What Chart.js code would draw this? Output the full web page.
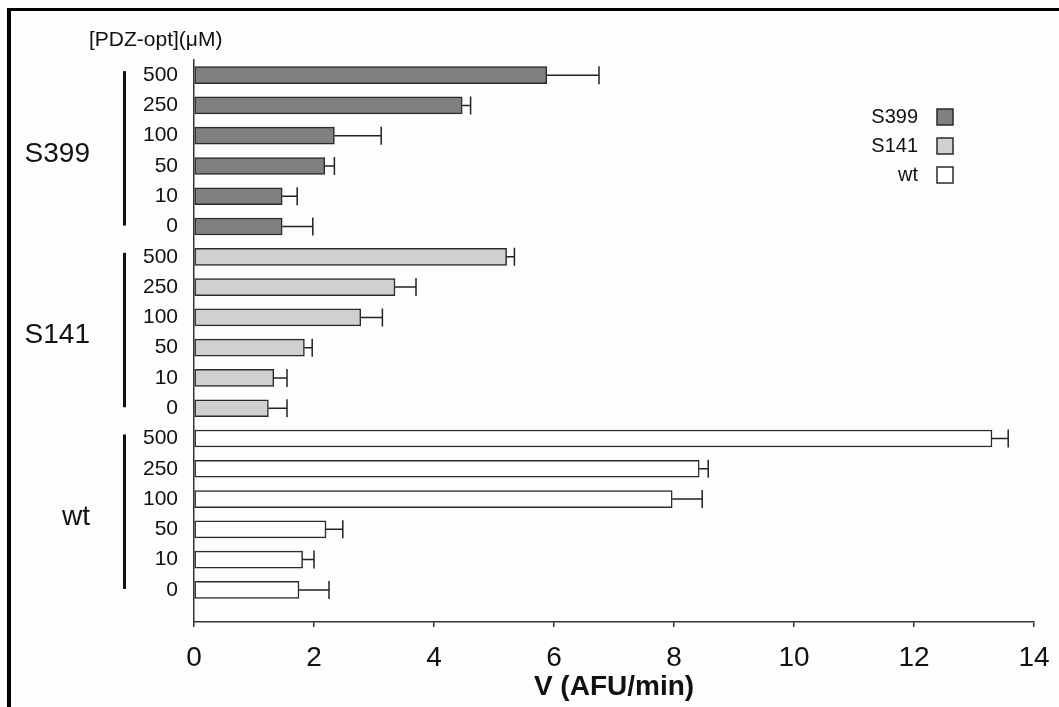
<!DOCTYPE html>
<html>
<head>
<meta charset="utf-8">
<script src="https://cdn.jsdelivr.net/npm/chart.js@4"></script>
<style>
    body { margin: 0; background: #fff; }
    #wrap { position: relative; width: 1059px; height: 707px; overflow: hidden; background: #fdfdfd; }
    #frame { position: absolute; left: 7px; top: 8px; right: -10px; bottom: -10px; border-top: 3px solid #000; border-left: 4px solid #000; pointer-events: none; }
    canvas { position: absolute; left: 0; top: 0; }
</style>
</head>
<body>
<div id="wrap">
    <canvas id="chart" width="1059" height="707"></canvas>
    <div id="frame"></div>
</div>
<script>
// rows are drawn top to bottom: S399 group, S141 group, wt group
const groups = ['S399', 'S141', 'wt'];
const concLabels = ['500', '250', '100', '50', '10', '0'];
const headerLabel = '[PDZ-opt](\u03bcM)';

const s399Values = [5.88, 4.47, 2.34, 2.18, 1.47, 1.47];
const s399Errors = [0.87, 0.14, 0.78, 0.16, 0.25, 0.51];
const s141Values = [5.21, 3.35, 2.78, 1.84, 1.33, 1.24];
const s141Errors = [0.13, 0.35, 0.36, 0.13, 0.22, 0.31];
const wtValues = [13.30, 8.42, 7.97, 2.20, 1.81, 1.75];
const wtErrors = [0.27, 0.15, 0.50, 0.28, 0.19, 0.50];

const xMax = 14;
const xStep = 2;
const xTitle = 'V (AFU/min)';

const FONT = '"Liberation Sans", Arial, sans-serif';
const rowCount = groups.length * concLabels.length;
const rowLabels = groups.flatMap(() => concLabels);
const yMin = -0.5;
const yMax = rowCount + 0.06;

const groupStyles = [
    { fill: '#808080' },
    { fill: '#d0d0d0' },
    { fill: '#ffffff' }
];

function toRows(values, g) {
    return values.map((v, r) => ({ x: v, y: g * concLabels.length + r }));
}

const seriesValues = [s399Values, s141Values, wtValues];
const seriesErrors = [s399Errors, s141Errors, wtErrors];

const datasets = groups.map((name, g) => ({
    label: name,
    data: toRows(seriesValues[g], g),
    errors: seriesErrors[g],
    backgroundColor: groupStyles[g].fill,
    borderColor: '#2a2a2a',
    borderWidth: 1.5,
    borderSkipped: false,
    barThickness: 17,
    grouped: false
}));

// error bars: line from bar end to value + error, with a cap
const errorBars = {
    id: 'errorBars',
    afterDatasetsDraw(chart) {
        const ctx = chart.ctx;
        const xs = chart.scales.x;
        ctx.save();
        ctx.strokeStyle = '#222';
        ctx.lineWidth = 1.5;
        chart.data.datasets.forEach((ds, di) => {
            const meta = chart.getDatasetMeta(di);
            meta.data.forEach((bar, i) => {
                const v = ds.data[i].x;
                const x0 = xs.getPixelForValue(v);
                const x1 = xs.getPixelForValue(v + ds.errors[i]);
                const y = bar.y;
                ctx.beginPath();
                ctx.moveTo(x0, y);
                ctx.lineTo(x1, y);
                ctx.moveTo(x1, y - 9);
                ctx.lineTo(x1, y + 9);
                ctx.stroke();
            });
        });
        ctx.restore();
    }
};

// group brackets, group names, header and legend
const decorations = {
    id: 'decorations',
    afterDraw(chart) {
        const ctx = chart.ctx;
        const ys = chart.scales.y;
        const n = concLabels.length;
        ctx.save();
        ctx.fillStyle = '#111';

        // header over the concentration labels
        ctx.font = '21px ' + FONT;
        ctx.textAlign = 'left';
        ctx.textBaseline = 'middle';
        ctx.fillText(headerLabel, 89, 40);

        groups.forEach((name, g) => {
            const yTop = ys.getPixelForValue(g * n) - 4;
            const yBot = ys.getPixelForValue(g * n + n - 1) - 1;
            ctx.fillRect(123, yTop, 3, yBot - yTop);
            const yMid = (ys.getPixelForValue(g * n + 2) + ys.getPixelForValue(g * n + 3)) / 2 + 3;
            ctx.font = '28px ' + FONT;
            ctx.textAlign = 'right';
            ctx.fillText(name, 90, yMid);
        });

        // legend: text on the left, box on the right
        const ds = chart.data.datasets;
        ds.forEach((d, i) => {
            const cy = 117 + i * 29;
            ctx.font = '20px ' + FONT;
            ctx.textAlign = 'right';
            ctx.fillStyle = '#111';
            ctx.fillText(d.label, 918, cy);
            ctx.fillStyle = d.backgroundColor;
            ctx.fillRect(937, cy - 8, 16, 16);
            ctx.strokeStyle = '#2a2a2a';
            ctx.lineWidth = 1.5;
            ctx.strokeRect(937, cy - 8, 16, 16);
        });
        ctx.restore();
    }
};

new Chart(document.getElementById('chart'), {
    type: 'bar',
    data: { datasets },
    plugins: [errorBars, decorations],
    options: {
        indexAxis: 'y',
        responsive: false,
        animation: false,
        devicePixelRatio: 1,
        layout: { padding: { left: 0, top: 60, right: 25, bottom: 0 } },
        plugins: {
            legend: { display: false },
            tooltip: { enabled: false }
        },
        scales: {
            x: {
                type: 'linear',
                min: 0,
                max: xMax,
                afterFit: s => {
                    s.height = 85;
                    s.paddingLeft = 0;
                    s.paddingRight = 0;
                },
                ticks: {
                    stepSize: xStep,
                    maxRotation: 0,
                    color: '#111',
                    padding: 14,
                    font: { family: FONT, size: 28 }
                },
                grid: { drawOnChartArea: false, drawTicks: true, tickLength: 5, color: '#333', lineWidth: 1.5 },
                border: { display: true, color: '#333', width: 1.5 },
                title: {
                    display: true,
                    text: xTitle,
                    color: '#111',
                    font: { family: FONT, size: 28, weight: 'bold' },
                    padding: { top: 0, bottom: 3 }
                }
            },
            y: {
                type: 'linear',
                reverse: true,
                offset: false,
                min: yMin,
                max: yMax,
                afterFit: s => {
                    s.width = 194;
                    s.paddingTop = 0;
                    s.paddingBottom = 0;
                },
                afterBuildTicks: s => {
                    s.ticks = rowLabels.map((_, i) => ({ value: i }));
                    s.min = yMin;
                    s.max = yMax;
                },
                ticks: {
                    autoSkip: false,
                    color: '#111',
                    padding: 16,
                    font: { family: FONT, size: 21 },
                    callback: v => rowLabels[v]
                },
                grid: { drawOnChartArea: false, drawTicks: false },
                border: { display: true, color: '#333', width: 1.5 }
            }
        }
    }
});
</script>
</body>
</html>
